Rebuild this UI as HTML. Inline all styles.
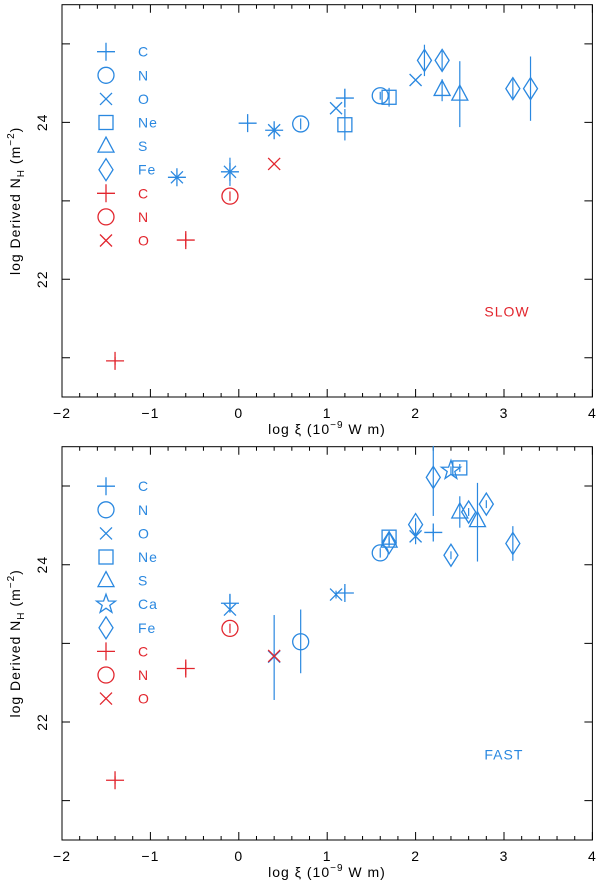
<!DOCTYPE html>
<html><head><meta charset="utf-8"><style>
body{margin:0;background:#fff;}
svg{display:block;font-family:"Liberation Sans",sans-serif;}
text{letter-spacing:1px;}
</style></head><body>
<svg id="c" width="600" height="885"></svg>
<script>
const BLUE="#2a88e0", RED="#e2262e";
const xTicks=[-2,-1,0,1,2,3,4];
const yTicks=[22,24];
// SLOW panel series: [x, y, errLow, errHigh]
const slowBlueC=[[-0.7,23.3,0,0],[-0.1,23.37,0.18,0.18],[0.1,23.99,0,0],[0.4,23.9,0.05,0.05],[1.2,24.31,0.12,0.12]];
const slowBlueN=[[0.7,23.98,0.07,0.07],[1.6,24.34,0.05,0.05]];
const slowBlueO=[[-0.7,23.3,0,0],[-0.1,23.37,0,0],[0.4,23.9,0,0],[1.1,24.18,0,0],[2.0,24.54,0,0]];
const slowBlueNe=[[1.2,23.97,0.2,0.2],[1.7,24.32,0.12,0.12]];
const slowBlueS=[[2.3,24.42,0.15,0.13],[2.5,24.36,0.42,0.42]];
const slowBlueCa=[];
const slowBlueFe=[[2.1,24.79,0.2,0.2],[2.3,24.79,0.12,0.12],[3.1,24.43,0.12,0.12],[3.3,24.43,0.41,0.41]];
const slowRedC=[[-0.6,22.5,0.08,0.08],[-1.4,20.96,0.05,0.05]];
const slowRedN=[[-0.1,23.06,0.06,0.06]];
const slowRedO=[[0.4,23.47,0,0]];
// FAST panel series
const fastBlueC=[[-0.1,23.51,0.12,0.12],[1.2,23.64,0.06,0.06],[2.2,24.41,0.05,0.05]];
const fastBlueN=[[1.6,24.15,0.06,0.06],[0.7,23.02,0.4,0.41]];
const fastBlueO=[[-0.1,23.43,0,0],[1.1,23.62,0.05,0.05],[2.0,24.36,0.1,0.1],[0.4,22.83,0.55,0.53]];
const fastBlueNe=[[1.7,24.35,0.08,0.08],[2.5,25.23,0.05,0.05]];
const fastBlueS=[[1.7,24.3,0.05,0.05],[2.5,24.67,0.2,0.2],[2.7,24.56,0.52,0.48]];
const fastBlueCa=[[2.4,25.2,0.05,0.05]];
const fastBlueFe=[[2.2,25.11,0.49,0.4],[2.0,24.51,0.08,0.08],[1.7,24.28,0.05,0.05],[2.4,24.12,0.05,0.05],[2.6,24.67,0.05,0.05],[2.8,24.77,0.05,0.05],[3.1,24.27,0.22,0.22]];
const fastRedC=[[-0.6,22.68,0.08,0.08],[-1.4,21.26,0.05,0.05]];
const fastRedN=[[-0.1,23.19,0.06,0.06]];
const fastRedO=[[0.4,22.84,0,0]];

const NS="http://www.w3.org/2000/svg";
const svg=document.getElementById('c');
function el(t,a,p){const e=document.createElementNS(NS,t);for(const k in a)e.setAttribute(k,a[k]);(p||svg).appendChild(e);return e;}

function marker(g,type,cx,cy,col){
  const s={stroke:col,'stroke-width':1.3,fill:'none'};
  let e;
  if(type==='plus'){e=el('path',Object.assign({d:`M${cx-9},${cy}H${cx+9}M${cx},${cy-9}V${cy+9}`},s),g);}
  else if(type==='circle'){e=el('circle',Object.assign({cx:cx,cy:cy,r:8},s),g);}
  else if(type==='cross'){e=el('path',Object.assign({d:`M${cx-6},${cy-6}L${cx+6},${cy+6}M${cx+6},${cy-6}L${cx-6},${cy+6}`},s),g);}
  else if(type==='square'){e=el('rect',Object.assign({x:cx-7,y:cy-7,width:14,height:14},s),g);}
  else if(type==='tri'){e=el('path',Object.assign({d:`M${cx},${cy-9}L${cx+8},${cy+6}L${cx-8},${cy+6}Z`},s),g);}
  else if(type==='star'){let d='';for(let i=0;i<10;i++){const r=i%2?4:10,a=-Math.PI/2+i*Math.PI/5;d+=(i?'L':'M')+(cx+r*Math.cos(a)).toFixed(1)+','+(cy+r*Math.sin(a)).toFixed(1);}e=el('path',Object.assign({d:d+'Z'},s),g);}
  else if(type==='diamond'){e=el('path',Object.assign({d:`M${cx},${cy-11}L${cx+7},${cy}L${cx},${cy+11}L${cx-7},${cy}Z`},s),g);}
  return e;
}

function panel(top,bottom,name,series,legend,label,labelCol){
  const L=62,R=592.4;
  const X=v=>L+(v+2)*(R-L)/6;
  const Y=v=>bottom-(v-20.5)*(bottom-top)/5;
  const g=el('g',{});
  
  
  const box=el('rect',{x:L,y:top,width:R-L,height:bottom-top,fill:'none',stroke:'#000','stroke-width':1},g);
  
  let d='';
  for(let i=0;i<=30;i++){const v=-2+i*0.2,x=X(v),len=(i%5===0)?8:4;d+=`M${x},${bottom}V${bottom-len}M${x},${top}V${top+len}`;}
  for(let v=21;v<=25;v++){const y=Y(v);d+=`M${L},${y}H${L+8}M${R},${y}H${R-8}`;}
  el('path',{d:d,stroke:'#000','stroke-width':1},g);
  xTicks.forEach(v=>{const t=el('text',{x:X(v),y:bottom+21,'text-anchor':'middle','font-size':14},g);t.textContent=(v<0?'\u2212'+(-v):v);
    });
  yTicks.forEach(v=>{const y=Y(v);const t=el('text',{x:0,y:0,'text-anchor':'middle','font-size':14,transform:`translate(47,${y}) rotate(-90)`},g);t.textContent=v;
    });
  const xt=el('text',{x:327,y:bottom+37,'text-anchor':'middle','font-size':14},g);
  xt.innerHTML='log \u03be (10<tspan dy="-6" font-size="10">\u22129</tspan><tspan dy="6"> W m)</tspan>';
  
  const yt=el('text',{x:0,y:0,'text-anchor':'middle','font-size':14,transform:`translate(20,${Y(23)}) rotate(-90)`},g);
  yt.innerHTML='log Derived N<tspan dy="4" font-size="10">H</tspan><tspan dy="-4"> (m</tspan><tspan dy="-6" font-size="10">\u22122</tspan><tspan dy="6">)</tspan>';
  
  series.forEach(s=>{
    const sg=el('g',{},g);
    
    s.data.forEach(p=>{
      const cx=X(p[0]),cy=Y(p[1]);
      if(p[2]||p[3]){const eb=el('line',{x1:cx,x2:cx,y1:Y(p[1]-p[2]),y2:Y(p[1]+p[3]),stroke:s.col,'stroke-width':1.2},sg);
        }
      const m=marker(sg,s.type,cx,cy,s.col);
      
    });
  });
  legend.forEach((l,i)=>{
    const y=top+(name==='slow'?47:39.5)+i*23.6;
    const lg=el('g',{},g);
    
    marker(lg,l[0],106,y,l[2]);
    const t=el('text',{x:138,y:y+5,'font-size':14,fill:l[2]},lg);t.textContent=l[1];
  });
  const lab=el('text',{x:R-108,y:top+(bottom-top)*0.795,'font-size':14,fill:labelCol},g);
  lab.textContent=label;
  
}

panel(4.7,397,'slow',[
 {name:'blue-c',type:'plus',col:BLUE,data:slowBlueC},
 {name:'blue-n',type:'circle',col:BLUE,data:slowBlueN},
 {name:'blue-o',type:'cross',col:BLUE,data:slowBlueO},
 {name:'blue-ne',type:'square',col:BLUE,data:slowBlueNe},
 {name:'blue-s',type:'tri',col:BLUE,data:slowBlueS},
 {name:'blue-ca',type:'star',col:BLUE,data:slowBlueCa},
 {name:'blue-fe',type:'diamond',col:BLUE,data:slowBlueFe},
 {name:'red-c',type:'plus',col:RED,data:slowRedC},
 {name:'red-n',type:'circle',col:RED,data:slowRedN},
 {name:'red-o',type:'cross',col:RED,data:slowRedO}],
 [['plus','C',BLUE],['circle','N',BLUE],['cross','O',BLUE],['square','Ne',BLUE],['tri','S',BLUE],['diamond','Fe',BLUE],['plus','C',RED],['circle','N',RED],['cross','O',RED]],
 'SLOW',RED);
panel(446.7,840,'fast',[
 {name:'blue-c',type:'plus',col:BLUE,data:fastBlueC},
 {name:'blue-n',type:'circle',col:BLUE,data:fastBlueN},
 {name:'blue-o',type:'cross',col:BLUE,data:fastBlueO},
 {name:'blue-ne',type:'square',col:BLUE,data:fastBlueNe},
 {name:'blue-s',type:'tri',col:BLUE,data:fastBlueS},
 {name:'blue-ca',type:'star',col:BLUE,data:fastBlueCa},
 {name:'blue-fe',type:'diamond',col:BLUE,data:fastBlueFe},
 {name:'red-c',type:'plus',col:RED,data:fastRedC},
 {name:'red-n',type:'circle',col:RED,data:fastRedN},
 {name:'red-o',type:'cross',col:RED,data:fastRedO}],
 [['plus','C',BLUE],['circle','N',BLUE],['cross','O',BLUE],['square','Ne',BLUE],['tri','S',BLUE],['star','Ca',BLUE],['diamond','Fe',BLUE],['plus','C',RED],['circle','N',RED],['cross','O',RED]],
 'FAST',BLUE);
</script>
</body></html>
